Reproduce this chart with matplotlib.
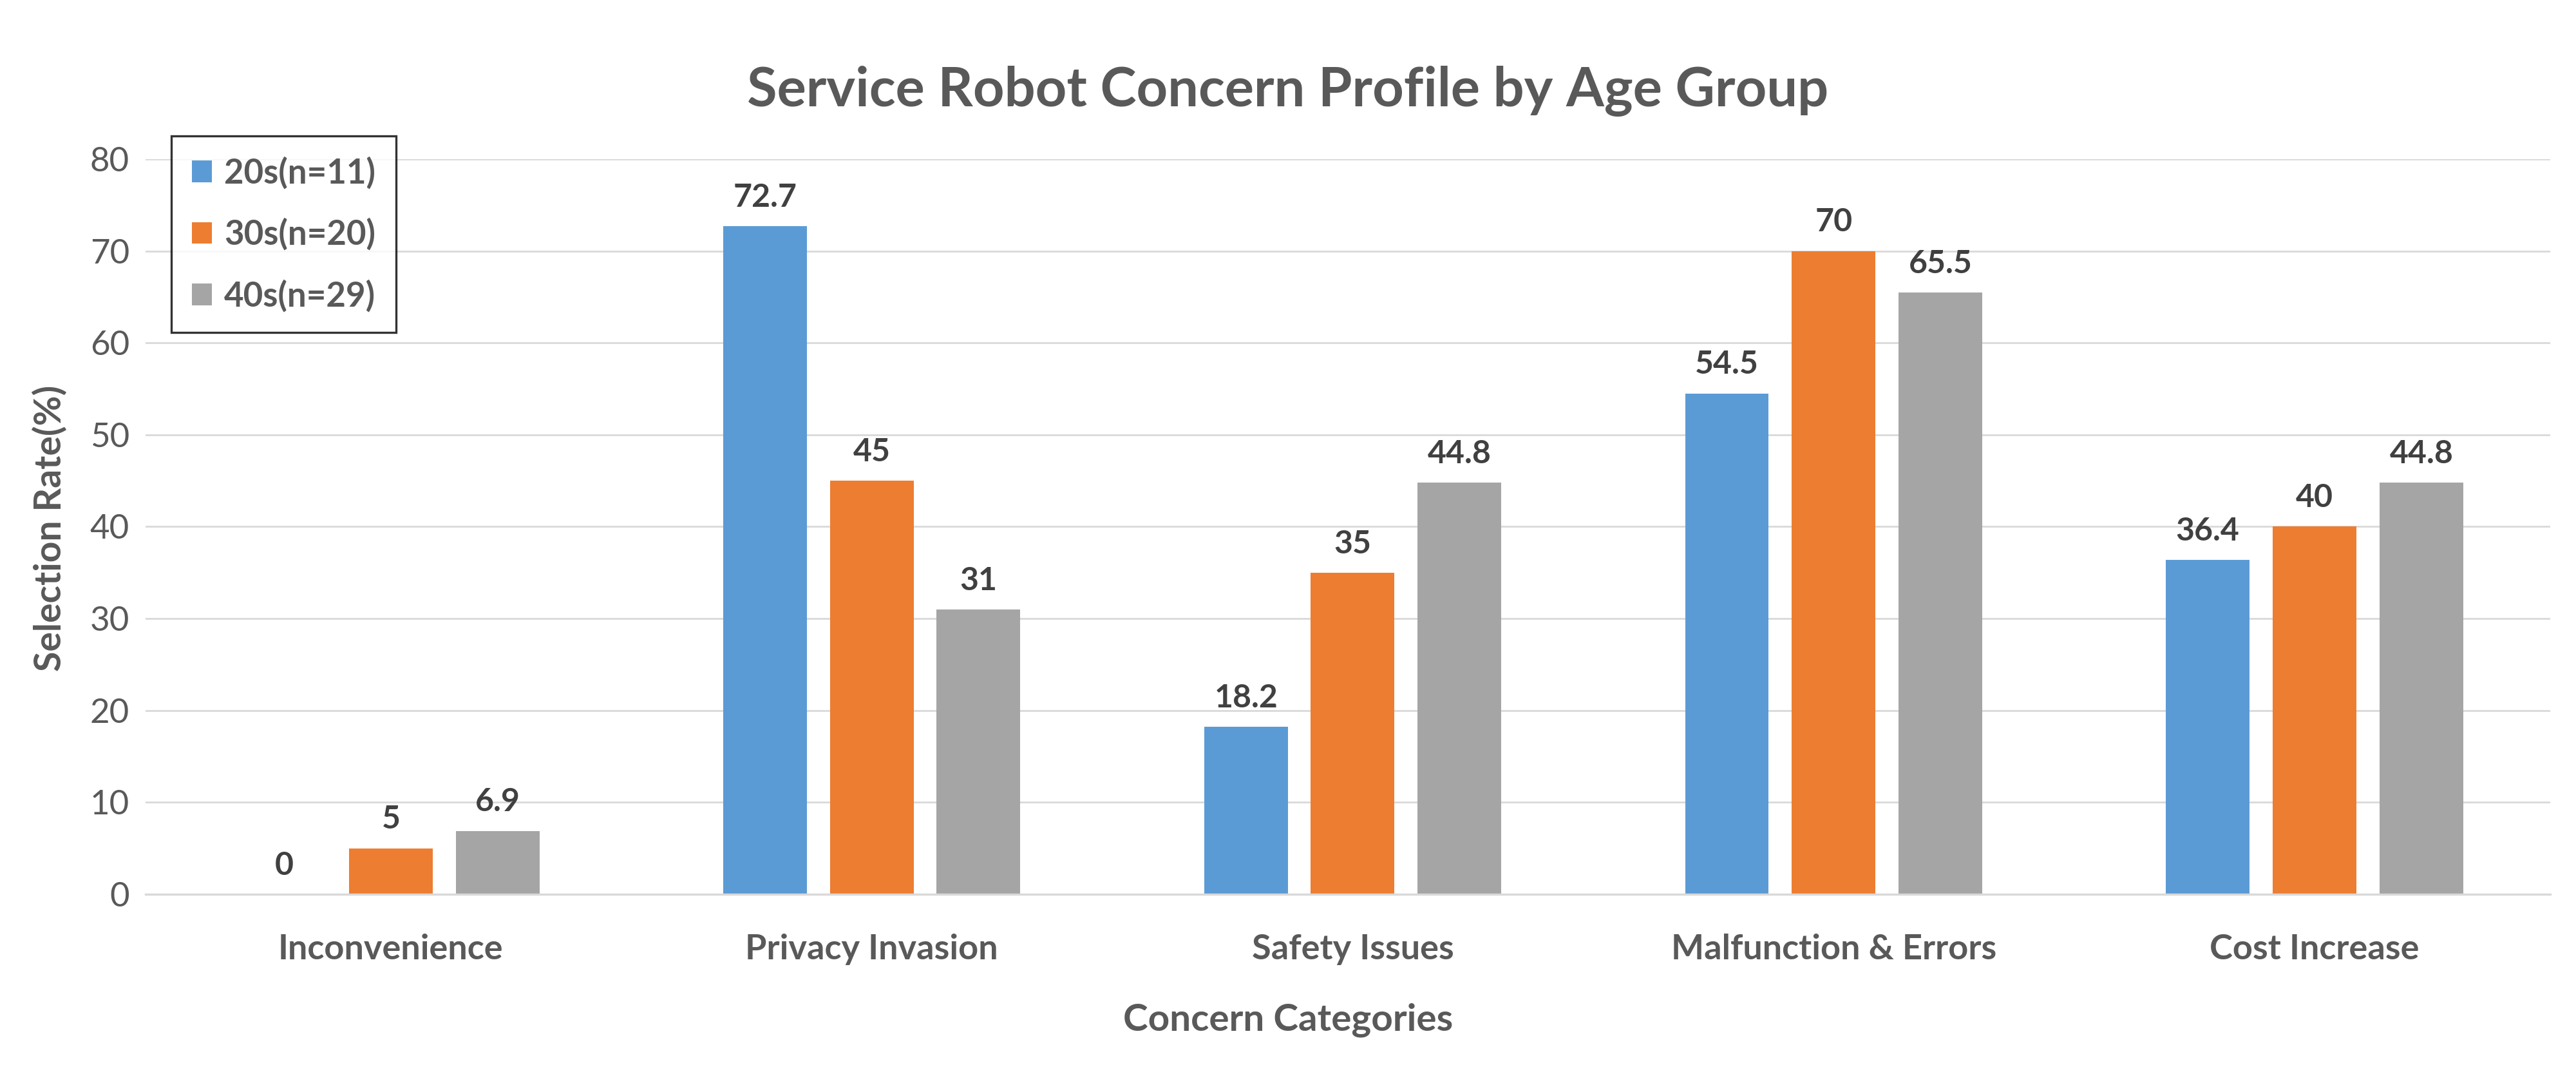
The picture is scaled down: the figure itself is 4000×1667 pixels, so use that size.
import numpy as np
import matplotlib
matplotlib.use('Agg')
import matplotlib.pyplot as plt

plt.rcParams['font.family'] = ['Lato', 'DejaVu Sans']

categories = ['Inconvenience', 'Privacy Invasion', 'Safety Issues', 'Malfunction & Errors', 'Cost Increase']
groups = ['20s(n=11)', '30s(n=20)', '40s(n=29)']
rate_20s = [0, 72.7, 18.2, 54.5, 36.4]
rate_30s = [5, 45, 35, 70, 40]
rate_40s = [6.9, 31, 44.8, 65.5, 44.8]
colors = ['#5B9BD5', '#ED7D31', '#A5A5A5']

text_grey = '#595959'
label_grey = '#404040'
grid_grey = '#D9D9D9'

fig = plt.figure(figsize=(20, 8.335), dpi=200)
ax = fig.add_axes([0.0565, 0.1674, 0.9335, 0.6844])

x = np.arange(len(categories))
width = 0.174
offset = 0.222

for i, (vals, name) in enumerate(zip([rate_20s, rate_30s, rate_40s], groups)):
    bars = ax.bar(x + (i - 1) * offset, vals, width, color=colors[i], label=name, zorder=3)
    for b, v in zip(bars, vals):
        ax.annotate(f'{v:g}', (b.get_x() + b.get_width() / 2, v), xytext=(0, 8),
                    textcoords='offset points', ha='center', va='bottom',
                    fontsize=18, fontweight='bold', color=label_grey)

ax.set_xlim(-0.51, 4.49)
ax.set_ylim(0, 80)
ax.set_yticks(np.arange(0, 81, 10))
ax.set_xticks(x)
ax.set_xticklabels(categories, fontsize=19.5, fontweight='bold', color=text_grey)
ax.tick_params(axis='x', length=0, pad=22)
ax.tick_params(axis='y', length=0, pad=9, labelsize=19, labelcolor=text_grey)

ax.grid(axis='y', color=grid_grey, linewidth=1.0, zorder=0)
for s in ['top', 'right', 'left']:
    ax.spines[s].set_visible(False)
ax.spines['bottom'].set_color(grid_grey)
ax.spines['bottom'].set_linewidth(1.2)
ax.spines['bottom'].set_zorder(4)

fig.text(0.5, 0.916, 'Service Robot Concern Profile by Age Group', ha='center', va='center',
         fontsize=30.5, fontweight='bold', color=text_grey)
fig.text(0.5, 0.05, 'Concern Categories', ha='center', va='center',
         fontsize=21, fontweight='bold', color=text_grey)
fig.text(0.0195, 0.508, 'Selection Rate(%)', ha='center', va='center', rotation=90,
         fontsize=20.5, fontweight='bold', color=text_grey)

leg = ax.legend(loc='upper left', bbox_to_anchor=(0.0665, 0.8734), bbox_transform=fig.transFigure,
                borderaxespad=0, fontsize=19, frameon=True, fancybox=False,
                handlelength=0.6, handleheight=0.6, handletextpad=0.35,
                labelspacing=0.85, borderpad=0.6)
leg.get_frame().set_edgecolor('black')
leg.get_frame().set_linewidth(1.2)
for t in leg.get_texts():
    t.set_color(text_grey)
    t.set_fontweight('bold')

fig.savefig('out.png', dpi=200, facecolor='white')
